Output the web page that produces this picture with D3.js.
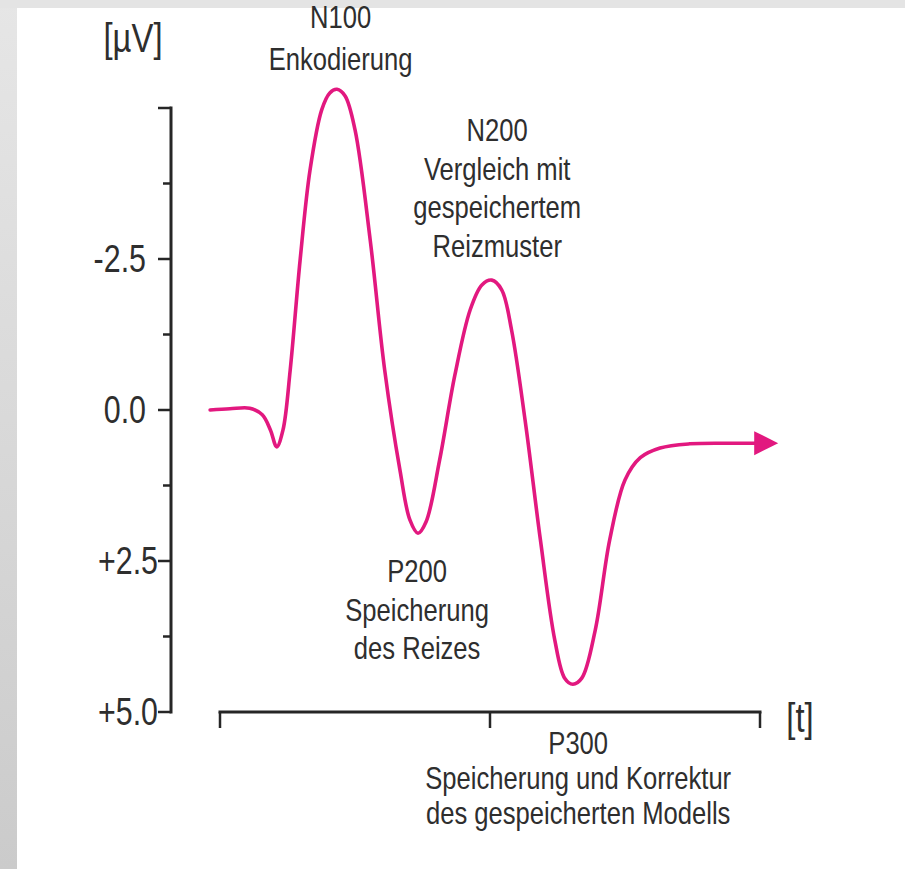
<!DOCTYPE html>
<html>
<head>
<meta charset="utf-8">
<script src="https://cdn.jsdelivr.net/npm/d3@7"></script>
<style>
  html, body { margin: 0; padding: 0; background: #fff; }
  svg { display: block; }
  text { font-family: "Liberation Sans", Arial, sans-serif; fill: #2e2e2e; }
</style>
</head>
<body>
<svg id="chart" width="905" height="869"></svg>
<script>
// ---- data ----
const timeMs = [-11, 11, 33, 47, 56, 63, 70, 78, 89, 100, 113, 122, 130, 139, 150, 167, 183, 200, 211, 220, 229, 244, 261, 278, 291, 302, 313, 324, 339, 356, 372, 383, 392, 402, 417, 433, 450, 467, 489, 522, 567, 598];
const voltage = [0, -0.02, -0.03, 0.08, 0.33, 0.61, 0.33, -0.66, -2.48, -3.97, -4.97, -5.25, -5.31, -5.2, -4.64, -2.8, -0.66, 1.0, 1.82, 2.04, 1.85, 0.83, -0.58, -1.66, -2.07, -2.15, -1.99, -1.32, 0.17, 2.15, 3.81, 4.44, 4.54, 4.44, 3.64, 2.15, 1.16, 0.79, 0.63, 0.56, 0.55, 0.55];
const yTicks = [-5, -3.75, -2.5, -1.25, 0, 1.25, 2.5, 3.75, 5];
const yTickLabels = ["", "", "-2.5", "", "0.0", "", "+2.5", "", "+5.0"];
const xTicks = [0, 300, 600];
const annotationNames = ["N100", "N200", "P200", "P300"];
const annotationLines = [
  ["N100", "Enkodierung"],
  ["N200", "Vergleich mit", "gespeichertem", "Reizmuster"],
  ["P200", "Speicherung", "des Reizes"],
  ["P300", "Speicherung und Korrektur", "des gespeicherten Modells"]
];
const annotationTime = [134, 308, 219, 398];
const annotationVoltage = [-6.32, -4.45, 2.85, 5.7];
const yUnit = "[µV]";
const xUnit = "[t]";

// ---- layout ----
const svg = d3.select("#chart");
const W = 905, H = 869;
const NARROW = 0.8; // condensed typeface look

const defs = svg.append("defs");
const grad = defs.append("linearGradient").attr("id", "frameGrad")
  .attr("x1", 0).attr("y1", 0).attr("x2", 0).attr("y2", 1);
grad.append("stop").attr("offset", "0%").attr("stop-color", "#e6e6e6");
grad.append("stop").attr("offset", "100%").attr("stop-color", "#cbcbcb");

// background frame
svg.append("rect").attr("x", 0).attr("y", 0).attr("width", W).attr("height", H).attr("fill", "url(#frameGrad)");
svg.append("rect").attr("x", 0).attr("y", 0).attr("width", W).attr("height", 8).attr("fill", "#e4e4e4");
svg.append("rect").attr("x", 17).attr("y", 8).attr("width", W - 17).attr("height", H - 8).attr("fill", "#ffffff");

const x = d3.scaleLinear().domain([0, 600]).range([220, 760]);
const y = d3.scaleLinear().domain([-5, 5]).range([108, 712]);

function narrowText(parent, px, py, size, anchor) {
  return parent.append("text")
    .attr("transform", `translate(${px},${py}) scale(${NARROW},1)`)
    .attr("text-anchor", anchor)
    .attr("font-size", size);
}

// y axis
const yAxisG = svg.append("g").attr("transform", "translate(171,0)");
yAxisG.append("line")
  .attr("x1", 0).attr("x2", 0)
  .attr("y1", y(-5) - 1.5).attr("y2", y(5) + 1.5)
  .attr("stroke", "#262626").attr("stroke-width", 3);
yAxisG.selectAll("line.tick").data(yTicks).join("line")
  .attr("class", "tick")
  .attr("x1", 0)
  .attr("x2", (d, i) => (i % 2 === 0 ? -13 : -8))
  .attr("y1", d => y(d)).attr("y2", d => y(d))
  .attr("stroke", "#262626").attr("stroke-width", 2.5);
yTicks.forEach((d, i) => {
  if (!yTickLabels[i]) return;
  narrowText(yAxisG, d > 0 ? -13 : -25, y(d) + 13, 38, "end").text(yTickLabels[i]);
});

// x axis (bracket)
const xAxisG = svg.append("g").attr("transform", "translate(0,712)");
xAxisG.append("line")
  .attr("x1", x(0) - 1.5).attr("x2", x(600) + 1.5)
  .attr("y1", 0).attr("y2", 0)
  .attr("stroke", "#262626").attr("stroke-width", 3);
xAxisG.selectAll("line.tick").data(xTicks).join("line")
  .attr("class", "tick")
  .attr("x1", d => x(d)).attr("x2", d => x(d))
  .attr("y1", 0).attr("y2", 16)
  .attr("stroke", "#262626").attr("stroke-width", 2.5);

// units
narrowText(svg, 133, 52, 41, "middle").text(yUnit);
narrowText(svg, 800, 732, 41, "middle").text(xUnit);

// curve
const pts = timeMs.map((t, i) => [t, voltage[i]]);
const line = d3.line().x(d => x(d[0])).y(d => y(d[1])).curve(d3.curveCatmullRom.alpha(0.5));
const pink = "#e2187f";
svg.append("path").datum(pts)
  .attr("d", line)
  .attr("fill", "none")
  .attr("stroke", pink)
  .attr("stroke-width", 3.6)
  .attr("stroke-linecap", "round")
  .attr("stroke-linejoin", "round");

// arrow head at end of curve
const last = pts[pts.length - 1];
const ax = x(last[0]), ay = y(last[1]);
svg.append("path")
  .attr("d", `M${ax - 4},${ay - 12} L${ax + 20},${ay} L${ax - 4},${ay + 12} Z`)
  .attr("fill", pink);

// annotations
annotationLines.forEach((lines, k) => {
  const t = narrowText(svg, x(annotationTime[k]), y(annotationVoltage[k]), 32, "middle");
  lines.forEach((s, j) => {
    t.append("tspan")
      .attr("x", 0)
      .attr("dy", j === 0 ? 0 : (k === 3 ? 35 : (k === 0 ? 42 : 38.5)))
      .text(s);
  });
});
</script>
</body>
</html>
